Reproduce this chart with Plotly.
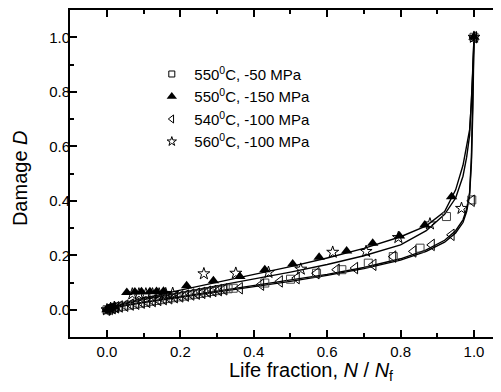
import plotly.graph_objects as go

# ---------------- data ----------------
# model curves
curve_x = [0, 0.02, 0.05, 0.1, 0.2, 0.3, 0.4, 0.5, 0.6, 0.7, 0.8, 0.87, 0.92, 0.95, 0.97, 0.98, 0.988, 0.993, 0.997, 1.0]
curve_a = [0, 0.012, 0.025, 0.042, 0.072, 0.100, 0.130, 0.158, 0.190, 0.225, 0.268, 0.308, 0.360, 0.440, 0.530, 0.600, 0.660, 0.760, 0.880, 1.0]
curve_b = [0, 0.010, 0.022, 0.037, 0.063, 0.088, 0.113, 0.138, 0.166, 0.198, 0.238, 0.290, 0.350, 0.410, 0.490, 0.560, 0.640, 0.750, 0.880, 1.0]
curve_c = [0, 0.008, 0.016, 0.028, 0.048, 0.068, 0.088, 0.108, 0.130, 0.155, 0.187, 0.220, 0.255, 0.290, 0.330, 0.370, 0.430, 0.560, 0.760, 1.0]
curve_d = [0, 0.007, 0.015, 0.026, 0.045, 0.064, 0.084, 0.104, 0.126, 0.151, 0.182, 0.214, 0.248, 0.282, 0.320, 0.360, 0.420, 0.540, 0.740, 1.0]

# 550 C, -50 MPa (open squares)
sq_x = [0, 0.01, 0.02, 0.03, 0.045, 0.06, 0.075, 0.09, 0.105, 0.12, 0.135, 0.15, 0.165, 0.18, 0.195,
        0.21, 0.225, 0.24, 0.255, 0.27, 0.285, 0.3, 0.315, 0.33, 0.344, 0.43, 0.5, 0.571, 0.64, 0.712,
        0.78, 0.853, 0.925, 0.994, 1.0]
sq_y = [0, 0.004, 0.007, 0.010, 0.013, 0.017, 0.020, 0.024, 0.027, 0.031, 0.034, 0.037, 0.041, 0.044, 0.047,
        0.050, 0.054, 0.057, 0.060, 0.064, 0.067, 0.070, 0.074, 0.077, 0.079, 0.098, 0.112, 0.134, 0.147, 0.171,
        0.195, 0.226, 0.342, 0.403, 1.0]

# 550 C, -150 MPa (filled up-triangles)
tri_x = [0, 0.005, 0.01, 0.02, 0.054, 0.076, 0.094, 0.117, 0.135, 0.154, 0.217, 0.29, 0.362, 0.43, 0.506,
         0.578, 0.653, 0.724, 0.797, 0.866, 0.939, 1.0]
tri_y = [0, 0.003, 0.006, 0.010, 0.063, 0.065, 0.066, 0.066, 0.067, 0.068, 0.088, 0.106, 0.122, 0.147, 0.168,
         0.193, 0.216, 0.244, 0.271, 0.311, 0.415, 1.0]

# 540 C, -100 MPa (open left-triangles)
lt_x = [0, 0.008, 0.016, 0.025, 0.035, 0.05, 0.065, 0.08, 0.095, 0.11, 0.125, 0.14, 0.155, 0.17, 0.185,
        0.2, 0.215, 0.23, 0.245, 0.26, 0.275, 0.29, 0.305, 0.32, 0.362, 0.42, 0.471, 0.517, 0.571, 0.626,
        0.676, 0.726, 0.78, 0.835, 0.885, 0.939, 0.994, 1.0]
lt_y = [0, 0.003, 0.006, 0.009, 0.012, 0.015, 0.019, 0.022, 0.026, 0.029, 0.032, 0.036, 0.039, 0.042, 0.046,
        0.049, 0.052, 0.056, 0.059, 0.062, 0.066, 0.069, 0.072, 0.075, 0.079, 0.092, 0.104, 0.116, 0.134, 0.147,
        0.153, 0.165, 0.195, 0.214, 0.238, 0.275, 0.400, 1.0]

# 560 C, -100 MPa (open stars)
st_x = [0, 0.01, 0.02, 0.069, 0.087, 0.106, 0.124, 0.142, 0.16, 0.179, 0.264, 0.351, 0.44, 0.528, 0.615,
        0.706, 0.794, 0.88, 0.966, 1.0]
st_y = [0, 0.005, 0.009, 0.058, 0.058, 0.058, 0.058, 0.058, 0.059, 0.060, 0.132, 0.134, 0.137, 0.149, 0.211,
        0.214, 0.265, 0.315, 0.372, 1.0]

legend_names = ["550<sup>0</sup>C, -50 MPa", "550<sup>0</sup>C, -150 MPa",
                "540<sup>0</sup>C, -100 MPa", "560<sup>0</sup>C, -100 MPa"]

x_ticks = [0.0, 0.2, 0.4, 0.6, 0.8, 1.0]
y_ticks = [0.0, 0.2, 0.4, 0.6, 0.8, 1.0]

# ---------------- figure ----------------
fig = go.Figure()
for cy in [curve_a, curve_b, curve_c, curve_d]:
    fig.add_trace(go.Scatter(x=curve_x, y=cy, mode="lines", line=dict(color="black", width=1.4),
                             showlegend=False, hoverinfo="skip"))

series = [
    (sq_x, sq_y, dict(symbol="square-open", size=8, color="#444444", line=dict(width=1))),
    (tri_x, tri_y, dict(symbol="triangle-up", size=10, color="black")),
    (lt_x, lt_y, dict(symbol="triangle-left-open", size=10, color="black", line=dict(width=1))),
    (st_x, st_y, dict(symbol="star-open", size=9, color="black", line=dict(width=1))),
]
legend_markers = [
    dict(symbol="square-open", size=6, color="black", line=dict(width=1)),
    dict(symbol="triangle-up", size=9, color="black"),
    dict(symbol="triangle-left-open", size=7, color="black", line=dict(width=1)),
    dict(symbol="star-open", size=7, color="black", line=dict(width=1)),
]
for (xs, ys, mk) in series:
    fig.add_trace(go.Scatter(x=xs, y=ys, mode="markers", marker=mk, showlegend=False))
for name, mk in zip(legend_names, legend_markers):
    fig.add_trace(go.Scatter(x=[None], y=[None], mode="markers", marker=mk, name=name, showlegend=True))

font_family = "Liberation Sans, Arial, sans-serif"
axis_common = dict(showline=True, linecolor="black", linewidth=2, ticks="inside", ticklen=7,
                   tickwidth=1.5, tickcolor="black", showgrid=False, zeroline=False, automargin=False,
                   tickfont=dict(size=15, color="black", family=font_family))

fig.update_xaxes(range=[-0.1008, 1.0736], tickvals=x_ticks, ticktext=[f"{v:.1f}" for v in x_ticks],
                 mirror="ticks",
                 minor=dict(ticks="inside", ticklen=4, tickwidth=1.5, tickcolor="black", dtick=0.1, tick0=0),
                 **axis_common)
fig.update_yaxes(range=[-0.1, 1.1], tickvals=y_ticks, ticktext=[f"{v:.1f}" for v in y_ticks],
                 mirror=False, ticklabelstandoff=-5,
                 minor=dict(ticks="inside", ticklen=4, tickwidth=1.5, tickcolor="black", dtick=0.1, tick0=0),
                 **axis_common)

# the page adds an 8px body margin, so the plot area is placed 8px up/left in figure coordinates
fig.update_layout(
    width=501, height=392,
    margin=dict(l=62, r=8, t=2, b=63, autoexpand=False),
    paper_bgcolor="white", plot_bgcolor="white",
    font=dict(family=font_family, color="black"),
    showlegend=True,
    legend=dict(x=0.184, y=0.854, xanchor="left", yanchor="top", bgcolor="rgba(0,0,0,0)",
                itemwidth=35,
                font=dict(size=15, family=font_family, color="black")),
    annotations=[
        dict(text="Damage <i>D</i>", xref="paper", yref="paper", x=-0.116, y=0.486,
             xanchor="center", yanchor="middle", textangle=-90, showarrow=False,
             font=dict(size=20, family=font_family, color="black")),
        dict(text="Life fraction, <i>N</i> / <i>N</i><sub>f</sub>", xref="paper", yref="paper",
             x=0.559, y=-0.105, xanchor="center", yanchor="middle", showarrow=False,
             font=dict(size=20, family=font_family, color="black")),
    ],
)

fig.write_html("out.html")
